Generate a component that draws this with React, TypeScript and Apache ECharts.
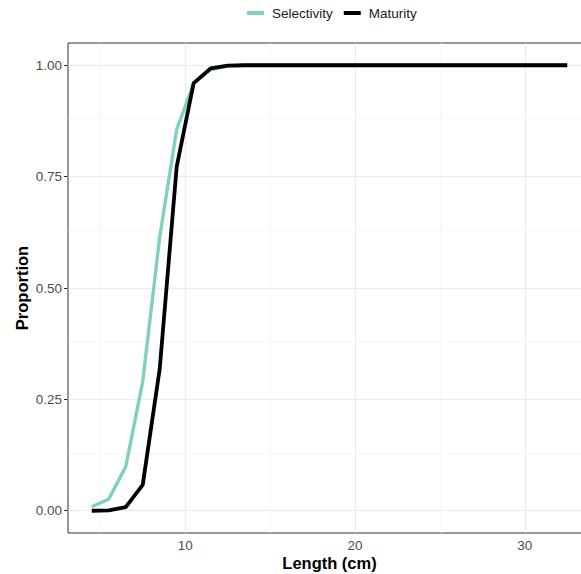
import React, { useEffect, useRef } from "react";
import * as echarts from "echarts";

const lengths = [4.5, 5.5, 6.5, 7.5, 8.5, 9.5, 10.5, 11.5, 12.5, 13.5, 14.5, 15.5, 16.5, 17.5, 18.5, 19.5, 20.5, 21.5, 22.5, 23.5, 24.5, 25.5, 26.5, 27.5, 28.5, 29.5, 30.5, 31.5, 32.5];
const selectivity = [0.009, 0.026, 0.099, 0.29, 0.614, 0.856, 0.959, 0.99, 0.998, 1, 1, 1, 1, 1, 1, 1, 1, 1, 1, 1, 1, 1, 1, 1, 1, 1, 1, 1, 1];
const maturity = [0, 0.001, 0.008, 0.058, 0.318, 0.772, 0.96, 0.993, 0.999, 1, 1, 1, 1, 1, 1, 1, 1, 1, 1, 1, 1, 1, 1, 1, 1, 1, 1, 1, 1];
const xTicks = [10, 20, 30];
const xMinor = [5, 15, 25];
const yTicks = [0, 0.25, 0.5, 0.75, 1];
const yMinor = [0.125, 0.375, 0.625, 0.875];
const yLabels = ["0.00", "0.25", "0.50", "0.75", "1.00"];

const FONT = "Liberation Sans, Arial, Helvetica, sans-serif";

export default function App() {
  const ref = useRef<HTMLDivElement>(null);
  useEffect(() => {
    document.body.style.margin = "0";
    const chart = echarts.init(ref.current!, null, { renderer: "svg" });
    const gridLines = [
      ...xTicks.map((v) => ({ xAxis: v, lineStyle: { color: "#ebebeb", width: 1.1, type: "solid" } })),
      ...xMinor.map((v) => ({ xAxis: v, lineStyle: { color: "#f2f2f2", width: 0.6, type: "solid" } })),
      ...yTicks.map((v) => ({ yAxis: v, lineStyle: { color: "#ebebeb", width: 1.1, type: "solid" } })),
      ...yMinor.map((v) => ({ yAxis: v, lineStyle: { color: "#f2f2f2", width: 0.6, type: "solid" } })),
    ];
    chart.setOption({
      animation: false,
      backgroundColor: "#ffffff",
      textStyle: { fontFamily: FONT },
      legend: {
        top: 1,
        left: 242,
        itemWidth: 17,
        itemHeight: 4,
        itemGap: 11,
        textStyle: { fontSize: 13.5, color: "#1a1a1a", fontFamily: FONT, padding: [0, 0, 0, 3] },
        data: [
          { name: "Selectivity", icon: "rect" },
          { name: "Maturity", icon: "rect" },
        ],
      },
      grid: {
        left: 68,
        top: 43,
        width: 523,
        height: 490,
        outerBoundsMode: "none",
        containLabel: false,
        show: true,
        borderColor: "#333333",
        borderWidth: 1,
        backgroundColor: "transparent",
      },
      xAxis: {
        type: "value",
        min: 3.1,
        max: 33.9,
        name: "Length (cm)",
        nameLocation: "middle",
        nameGap: 21,
        nameMoveOverlap: false,
        nameTextStyle: { fontSize: 16.5, fontWeight: "bold", color: "#000", fontFamily: FONT },
        axisLine: { show: false },
        axisTick: { show: true, length: 4, customValues: xTicks, lineStyle: { color: "#333333" } },
        axisLabel: { customValues: xTicks, fontSize: 13.5, color: "#4d4d4d", margin: 5, fontFamily: FONT },
        splitLine: { show: false },
      },
      yAxis: {
        type: "value",
        min: -0.05,
        max: 1.05,
        name: "Proportion",
        nameLocation: "middle",
        nameGap: 38,
        nameMoveOverlap: false,
        nameTextStyle: { fontSize: 16.5, fontWeight: "bold", color: "#000", fontFamily: FONT },
        axisLine: { show: false },
        axisTick: { show: true, length: 4, customValues: yTicks, lineStyle: { color: "#333333" } },
        axisLabel: {
          customValues: yTicks,
          fontSize: 13.5,
          color: "#4d4d4d",
          margin: 6,
          fontFamily: FONT,
          formatter: (v: number) => yLabels[yTicks.indexOf(Math.round(v * 1000) / 1000)] ?? v.toFixed(2),
        },
        splitLine: { show: false },
      },
      series: [
        {
          name: "grid",
          type: "line",
          data: [],
          z: 1,
          silent: true,
          markLine: {
            z: 1,
            silent: true,
            symbol: ["none", "none"],
            label: { show: false },
            emphasis: { disabled: true },
            data: gridLines,
          },
        },
        {
          name: "Selectivity",
          type: "line",
          z: 3,
          data: lengths.map((x, i) => [x, selectivity[i]]),
          showSymbol: false,
          symbol: "none",
          color: "#80d0c0",
          lineStyle: { width: 3.4, color: "#80d0c0" },
        },
        {
          name: "Maturity",
          type: "line",
          z: 4,
          data: lengths.map((x, i) => [x, maturity[i]]),
          showSymbol: false,
          symbol: "none",
          color: "#000000",
          lineStyle: { width: 3.8, color: "#000000" },
        },
      ],
    });
    return () => chart.dispose();
  }, []);
  return <div ref={ref} style={{ width: 581, height: 574 }} />;
}
